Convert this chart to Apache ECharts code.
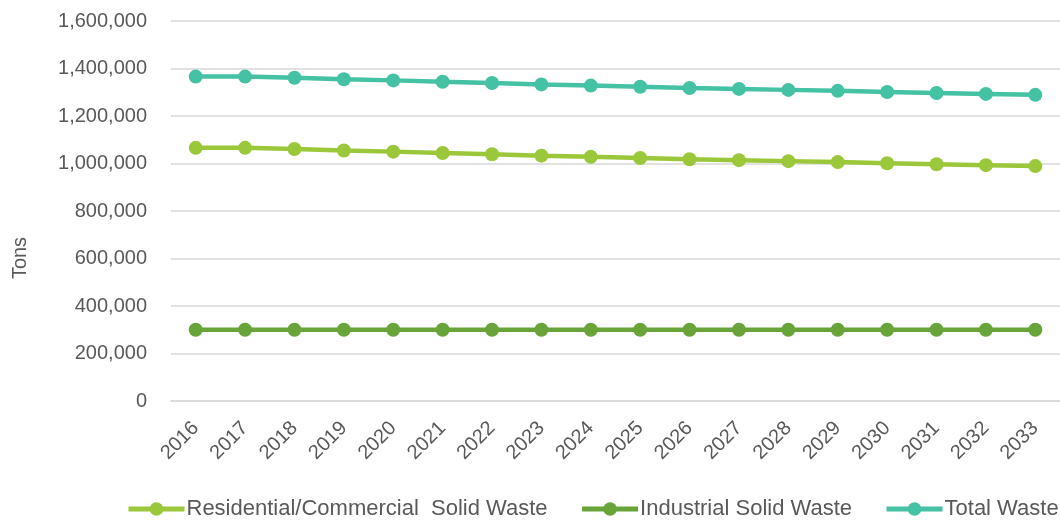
<!DOCTYPE html>
<html>
<head>
<meta charset="utf-8">
<script src="https://cdn.jsdelivr.net/npm/echarts@6/dist/echarts.min.js"></script>
<style>html,body{margin:0;padding:0;background:#fff}#c{width:1060px;height:523px}</style>
</head>
<body>
<div id="c"></div>
<script>
const years = ['2016','2017','2018','2019','2020','2021','2022','2023','2024','2025','2026','2027','2028','2029','2030','2031','2032','2033'];
const residential = [1066000,1066000,1061000,1055000,1050000,1044000,1039000,1033000,1028000,1023000,1018000,1014000,1010000,1006000,1001000,997000,993000,989000];
const industrial = [300000,300000,300000,300000,300000,300000,300000,300000,300000,300000,300000,300000,300000,300000,300000,300000,300000,300000];
const total = [1366000,1366000,1361000,1355000,1350000,1344000,1339000,1333000,1328000,1323000,1318000,1314000,1310000,1306000,1301000,1297000,1293000,1289000];
const yTicks = {min:0, max:1600000, interval:200000};
const seriesNames = ['Residential/Commercial  Solid Waste','Industrial Solid Waste','Total Waste'];
const colors = ['#9BC83B','#68A43A','#45C1A3'];

const FONT = 'Liberation Sans';
const TXT = '#595959';
const chart = echarts.init(document.getElementById('c'));
const mk = (name, data, color) => ({
  name, type:'line', data, symbol:'circle', symbolSize:14,
  lineStyle:{width:4.5, color}, itemStyle:{color}, animation:false
});
chart.setOption({
  animation:false,
  textStyle:{fontFamily:FONT},
  grid:{left:171, right:0, top:21, bottom:122, containLabel:false},
  legend:{
    data:seriesNames, top:498, left:126, padding:0, itemWidth:56, itemHeight:17, itemGap:32,
    lineStyle:{width:5},
    textStyle:{fontFamily:FONT, fontSize:22, color:TXT, padding:[0,0,0,-3]}
  },
  xAxis:{
    type:'category', data:years, boundaryGap:true,
    axisLine:{show:true, lineStyle:{color:'#d9d9d9', width:1.5}},
    axisTick:{show:false},
    axisLabel:{rotate:45, fontFamily:FONT, fontSize:20, color:TXT, margin:24, interval:0}
  },
  yAxis:{
    type:'value', min:yTicks.min, max:yTicks.max, interval:yTicks.interval,
    axisLine:{show:false}, axisTick:{show:false},
    splitLine:{lineStyle:{color:'#d9d9d9', width:1.5}},
    axisLabel:{fontFamily:FONT, fontSize:20, color:TXT, margin:24,
      formatter:v => v.toLocaleString('en-US')}
  },
  graphic:[{type:'text', x:20, y:258, rotation:Math.PI/2,
    style:{text:'Tons', align:'center', verticalAlign:'middle', fontFamily:FONT, fontSize:20, fill:TXT}}],
  series:[mk(seriesNames[0], residential, colors[0]), mk(seriesNames[1], industrial, colors[1]), mk(seriesNames[2], total, colors[2])]
});
</script>
</body>
</html>
